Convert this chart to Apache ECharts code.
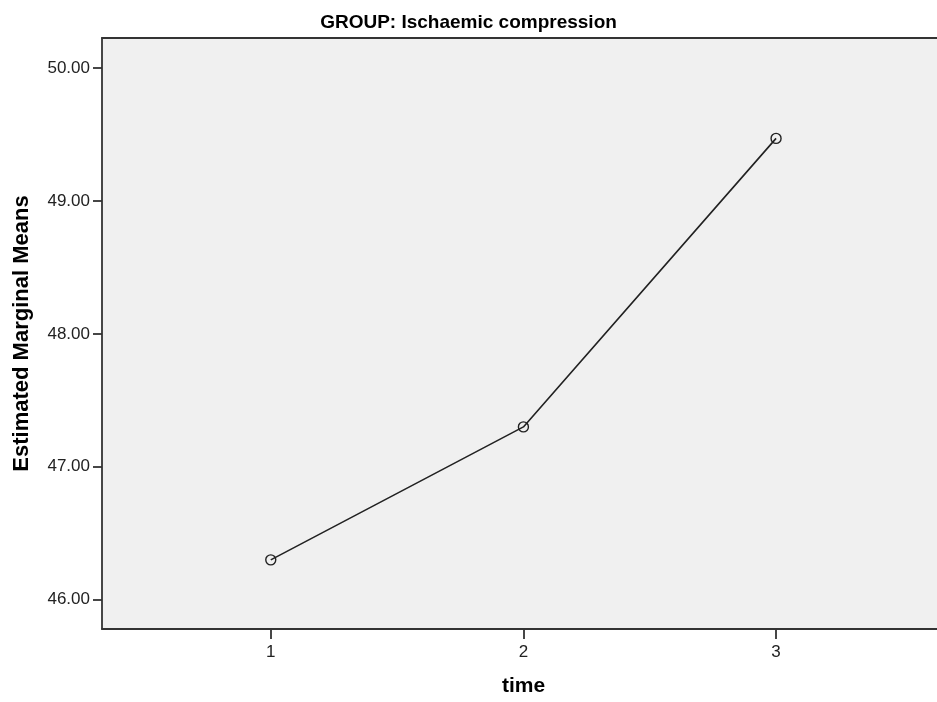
<!DOCTYPE html>
<html>
<head>
<meta charset="utf-8">
<script src="https://cdn.jsdelivr.net/npm/echarts@6/dist/echarts.min.js"></script>
<style>
  html, body { margin: 0; padding: 0; background: #ffffff; }
  #chart { width: 937px; height: 702px; }
</style>
</head>
<body>
<div id="chart"></div>
<script>
// Estimated marginal means by time point
const timePoints = [1, 2, 3];
const meanValues = [46.30, 47.30, 49.47];
const yTickValues = [46, 47, 48, 49, 50];
const xTickValues = [1, 2, 3];

const chart = echarts.init(document.getElementById('chart'));
const font = '"Liberation Sans", Arial, sans-serif';
const frame = { color: '#333', width: 1.8 };

chart.setOption({
  animation: false,
  title: {
    text: 'GROUP: Ischaemic compression',
    left: 'center',
    top: 8,
    textStyle: { fontFamily: font, fontWeight: 'bold', fontSize: 19, color: '#000' }
  },
  grid: {
    left: 102, top: 38, right: 0, bottom: 70,
    show: true, backgroundColor: '#f0f0f0', borderWidth: 0
  },
  xAxis: [{
    type: 'value',
    min: 0.332, max: 3.637,
    name: 'time',
    nameLocation: 'middle',
    nameGap: 47,
    nameTextStyle: { fontFamily: font, fontWeight: 'bold', fontSize: 21, color: '#000', padding: [0, 0, 0, 8] },
    splitLine: { show: false },
    axisLine: { show: true, lineStyle: frame },
    axisTick: { show: true, customValues: xTickValues, length: 10, lineStyle: frame },
    axisLabel: {
      customValues: xTickValues,
      formatter: v => String(v),
      fontFamily: font, fontSize: 17, color: '#222', margin: 15
    }
  }, {
    // top edge of the plot frame
    type: 'value',
    position: 'top',
    min: 0.332, max: 3.637,
    splitLine: { show: false },
    axisLine: { show: true, lineStyle: frame },
    axisTick: { show: false },
    axisLabel: { show: false }
  }],
  yAxis: {
    type: 'value',
    min: 45.78, max: 50.225,
    name: 'Estimated Marginal Means',
    nameLocation: 'middle',
    nameGap: 69,
    nameTextStyle: { fontFamily: font, fontWeight: 'bold', fontSize: 22, color: '#000' },
    splitLine: { show: false },
    axisLine: { show: true, lineStyle: frame },
    axisTick: { show: true, customValues: yTickValues, length: 9, lineStyle: frame },
    axisLabel: {
      customValues: yTickValues,
      formatter: v => v.toFixed(2),
      fontFamily: font, fontSize: 17, color: '#222', margin: 12
    }
  },
  series: [{
    type: 'line',
    xAxisIndex: 0,
    data: timePoints.map((t, i) => [t, meanValues[i]]),
    symbol: 'circle',
    symbolSize: 10,
    lineStyle: { color: '#222', width: 1.6 },
    itemStyle: { color: 'rgba(0,0,0,0)', borderColor: '#222', borderWidth: 1.4 }
  }]
});
</script>
</body>
</html>
